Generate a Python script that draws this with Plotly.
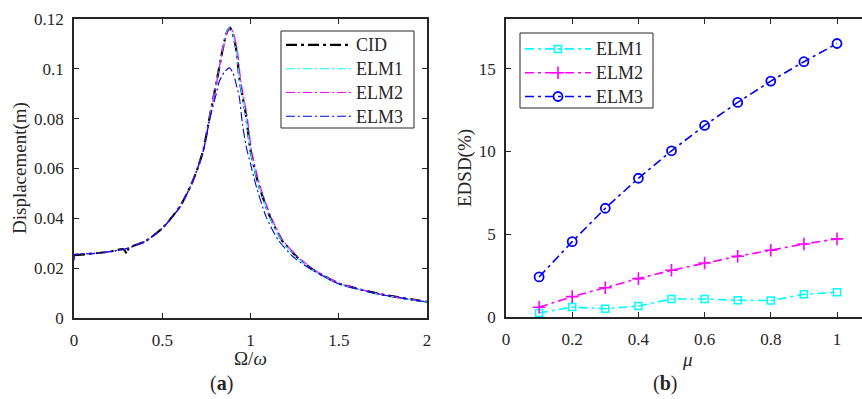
import plotly.graph_objects as go

# ---------- data: panel (a) frequency response ----------
cid_x = [0.0, 0.1, 0.2, 0.28, 0.30, 0.31, 0.4, 0.5, 0.6, 0.667, 0.70, 0.733, 0.771, 0.808, 0.84, 0.865,
         0.884, 0.90, 0.918, 0.94, 0.974, 1.0, 1.044, 1.11, 1.177, 1.262, 1.356, 1.5, 1.734, 2.0]
cid_y = [0.0252, 0.0258, 0.0266, 0.0276, 0.0258, 0.0281, 0.0306, 0.0360, 0.0447, 0.0540, 0.0600, 0.0675,
         0.0815, 0.0949, 0.1070, 0.1145, 0.1165, 0.1140, 0.1082, 0.0948, 0.0815, 0.0674, 0.0540, 0.0407,
         0.0313, 0.0246, 0.0193, 0.0139, 0.0096, 0.0065]

elm1_x = [0.0, 0.004, 0.1, 0.2, 0.3, 0.4, 0.5, 0.6, 0.667, 0.70, 0.733, 0.771, 0.808, 0.84, 0.865,
          0.882, 0.90, 0.918, 0.94, 0.974, 1.0, 1.044, 1.11, 1.177, 1.262, 1.356, 1.5, 1.734, 2.0]
elm1_y = [0.0232, 0.0254, 0.0258, 0.0266, 0.0279, 0.0306, 0.0360, 0.0447, 0.0540, 0.0600, 0.0675, 0.0815,
          0.0950, 0.1072, 0.1148, 0.1168, 0.1142, 0.1080, 0.0944, 0.0810, 0.0670, 0.0536, 0.0403, 0.0310,
          0.0243, 0.0191, 0.0138, 0.0095, 0.0064]

elm2_x = [0.0, 0.004, 0.1, 0.2, 0.3, 0.4, 0.5, 0.6, 0.667, 0.70, 0.733, 0.771, 0.808, 0.84, 0.868,
          0.888, 0.905, 0.924, 0.946, 0.980, 1.006, 1.050, 1.116, 1.183, 1.268, 1.362, 1.5, 1.734, 2.0]
elm2_y = [0.0232, 0.0254, 0.0258, 0.0266, 0.0279, 0.0306, 0.0359, 0.0445, 0.0538, 0.0598, 0.0672, 0.0810,
          0.0944, 0.1065, 0.1145, 0.1165, 0.1140, 0.1082, 0.0948, 0.0815, 0.0674, 0.0540, 0.0407, 0.0313,
          0.0246, 0.0193, 0.0140, 0.0096, 0.0065]

elm3_x = [0.0, 0.004, 0.1, 0.2, 0.3, 0.4, 0.5, 0.6, 0.667, 0.733, 0.771, 0.808, 0.823, 0.85, 0.88,
          0.90, 0.92, 0.937, 0.955, 0.978, 1.0, 1.03, 1.088, 1.157, 1.25, 1.356, 1.5, 1.734, 2.0]
elm3_y = [0.0232, 0.0254, 0.0258, 0.0266, 0.0279, 0.0306, 0.0360, 0.0445, 0.0540, 0.0672, 0.0805, 0.0905,
          0.0949, 0.0985, 0.1004, 0.0985, 0.0935, 0.0885, 0.0774, 0.0680, 0.0620, 0.0535, 0.0407, 0.0313,
          0.0240, 0.0190, 0.0137, 0.0095, 0.0064]

# ---------- data: panel (b) EDSD vs mu ----------
mu = [0.1, 0.2, 0.3, 0.4, 0.5, 0.6, 0.7, 0.8, 0.9, 1.0]
edsd_elm1 = [0.24, 0.60, 0.50, 0.66, 1.09, 1.09, 1.01, 0.99, 1.37, 1.49]
edsd_elm2 = [0.59, 1.23, 1.77, 2.32, 2.82, 3.26, 3.67, 4.03, 4.41, 4.72]
edsd_elm3 = [2.42, 4.55, 6.57, 8.38, 10.04, 11.57, 12.96, 14.25, 15.42, 16.52]

left_yticks = [0, 0.02, 0.04, 0.06, 0.08, 0.10, 0.12]
left_yticktext = ["0", "0.02", "0.04", "0.06", "0.08", "0.1", "0.12"]
left_xticks = [0, 0.5, 1, 1.5, 2]
right_xticks = [0, 0.2, 0.4, 0.6, 0.8, 1.0]
right_xticktext = ["0", "0.2", "0.4", "0.6", "0.8", "1"]
right_yticks = [0, 5, 10, 15]

FONT = "'Liberation Serif', 'Times New Roman', Times, serif"
AX = "#262626"
W, H = 862, 399


def big(s):
    return "<span style='font-size:18px'>" + s + "</span>"


fig = go.Figure()

thin_dash = "9px,3px,2px,3px"
fig.add_trace(go.Scatter(x=cid_x, y=cid_y, name=big("CID"), mode="lines",
                         line=dict(color="black", width=2.2, dash="11px,4px,3px,4px", shape="spline", smoothing=0.6),
                         xaxis="x", yaxis="y", legend="legend"))
fig.add_trace(go.Scatter(x=elm1_x, y=elm1_y, name=big("ELM1"), mode="lines",
                         line=dict(color="#00FFFF", width=1.1, dash=thin_dash, shape="spline", smoothing=0.6),
                         xaxis="x", yaxis="y", legend="legend"))
fig.add_trace(go.Scatter(x=elm2_x, y=elm2_y, name=big("ELM2"), mode="lines",
                         line=dict(color="#FF00FF", width=1.1, dash=thin_dash, shape="spline", smoothing=0.6),
                         xaxis="x", yaxis="y", legend="legend"))
fig.add_trace(go.Scatter(x=elm3_x, y=elm3_y, name=big("ELM3"), mode="lines",
                         line=dict(color="#0000FF", width=1.1, dash=thin_dash, shape="spline", smoothing=0.6),
                         xaxis="x", yaxis="y", legend="legend"))

rdash = "9px,4px,3px,4px"
fig.add_trace(go.Scatter(x=mu, y=edsd_elm1, name=big("ELM1"), mode="lines+markers",
                         line=dict(color="#00FFFF", width=1.6, dash=rdash),
                         marker=dict(symbol="square-open", size=7, color="#00FFFF", line=dict(width=1.5)),
                         xaxis="x2", yaxis="y2", legend="legend2"))
fig.add_trace(go.Scatter(x=mu, y=edsd_elm2, name=big("ELM2"), mode="lines+markers",
                         line=dict(color="#FF00FF", width=1.6, dash=rdash),
                         marker=dict(symbol="cross-thin-open", size=9, color="#FF00FF", line=dict(width=1.6, color="#FF00FF")),
                         xaxis="x2", yaxis="y2", legend="legend2"))
fig.add_trace(go.Scatter(x=mu, y=edsd_elm3, name=big("ELM3"), mode="lines+markers",
                         line=dict(color="#0000FF", width=1.6, dash=rdash),
                         marker=dict(symbol="circle-open", size=9, color="#0000FF", line=dict(width=1.8)),
                         xaxis="x2", yaxis="y2", legend="legend2"))

tickfont = dict(family=FONT, size=17, color=AX)
axcommon = dict(showline=True, linecolor=AX, linewidth=1.6, ticks="inside", ticklen=5, tickwidth=1.3,
                tickcolor=AX, showgrid=False, zeroline=False, tickfont=tickfont, automargin=False)
tfont = dict(family=FONT, size=19, color=AX)

fig.update_layout(
    template="none",
    width=W, height=H, margin=dict(l=0, r=0, t=0, b=0, pad=0),
    paper_bgcolor="white", plot_bgcolor="white",
    font=dict(family=FONT, size=16, color=AX),
    xaxis=dict(domain=[74 / W, 427 / W], range=[0, 2], tickvals=left_xticks, ticktext=["0", "0.5", "1", "1.5", "2"],
               mirror="ticks", anchor="y", ticklabelstandoff=6, **axcommon),
    yaxis=dict(domain=[(H - 318) / H, (H - 19) / H], range=[0, 0.12], tickvals=left_yticks, ticktext=left_yticktext,
               mirror="ticks", anchor="x", ticklabelstandoff=5, **axcommon),
    xaxis2=dict(domain=[506 / W, 1.0], range=[0, (W - 506) / 331.0], tickvals=right_xticks, ticktext=right_xticktext,
                mirror="ticks", anchor="y2", ticklabelstandoff=6, **axcommon),
    yaxis2=dict(domain=[(H - 317) / H, (H - 19) / H], range=[0, 18], tickvals=right_yticks,
                mirror=False, anchor="x2", ticklabelstandoff=5, **axcommon),
    legend=dict(x=281 / W, y=1 - 28 / H, xanchor="left", yanchor="top", bgcolor="rgba(0,0,0,0)",
                borderwidth=0, font=dict(family=FONT, size=16, color=AX),
                itemwidth=65, tracegroupgap=0),
    legend2=dict(x=520 / W, y=1 - 32 / H, xanchor="left", yanchor="top", bgcolor="rgba(0,0,0,0)",
                 borderwidth=0, font=dict(family=FONT, size=16, color=AX),
                 itemwidth=66, tracegroupgap=0),
    showlegend=True,
)

# legend frames (white box with dark border, drawn beneath legend entries)
fig.add_shape(type="rect", xref="paper", yref="paper", x0=281 / W, x1=414 / W, y0=1 - 128 / H, y1=1 - 31 / H,
              line=dict(color=AX, width=1), fillcolor="white", layer="above")
fig.add_shape(type="rect", xref="paper", yref="paper", x0=520 / W, x1=653 / W, y0=1 - 108 / H, y1=1 - 33 / H,
              line=dict(color=AX, width=1), fillcolor="white", layer="above")

# axis titles
fig.add_annotation(text="Ω/<i>ω</i>", x=250 / W, y=1 - 358 / H, xref="paper", yref="paper",
                   showarrow=False, font=tfont, xanchor="center", yanchor="middle")
fig.add_annotation(text="Displacement(m)", x=20 / W, y=1 - 168 / H, xref="paper", yref="paper", textangle=-90,
                   showarrow=False, font=tfont, xanchor="center", yanchor="middle")
fig.add_annotation(text="<i>μ</i>", x=687 / W, y=1 - 359 / H, xref="paper", yref="paper",
                   showarrow=False, font=tfont, xanchor="center", yanchor="middle")
fig.add_annotation(text="EDSD(%)", x=465 / W, y=1 - 168 / H, xref="paper", yref="paper", textangle=-90,
                   showarrow=False, font=tfont, xanchor="center", yanchor="middle")

fig.add_annotation(text="(<b>a</b>)", x=221 / W, y=1 - 383 / H, xref="paper", yref="paper",
                   showarrow=False, font=dict(family=FONT, size=20, color=AX), xanchor="center", yanchor="middle")
fig.add_annotation(text="(<b>b</b>)", x=665 / W, y=1 - 383 / H, xref="paper", yref="paper",
                   showarrow=False, font=dict(family=FONT, size=20, color=AX), xanchor="center", yanchor="middle")

fig.write_html("out.html")
